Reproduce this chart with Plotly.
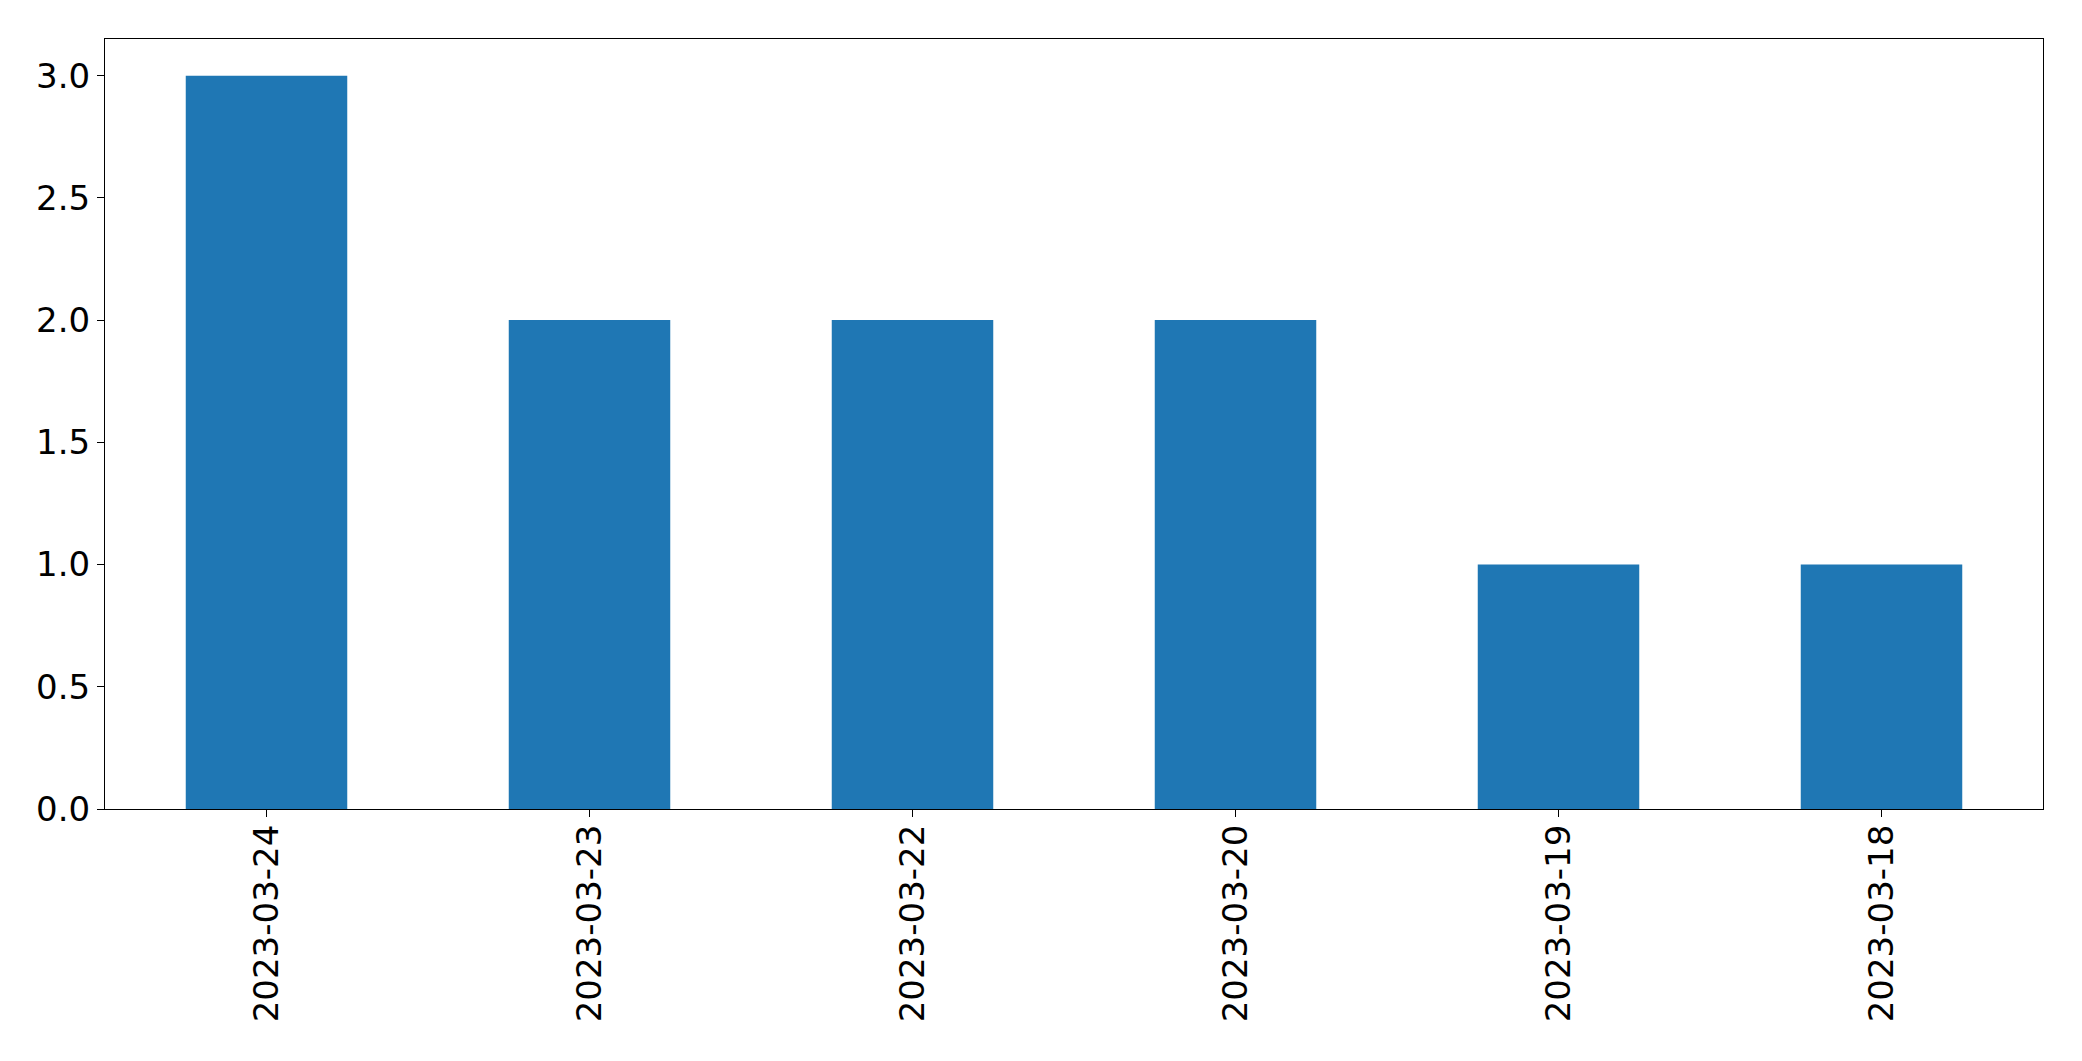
import plotly.graph_objects as go

dates = ["2023-03-24", "2023-03-23", "2023-03-22", "2023-03-20", "2023-03-19", "2023-03-18"]
counts = [3, 2, 2, 2, 1, 1]
y_ticks = [0.0, 0.5, 1.0, 1.5, 2.0, 2.5, 3.0]
y_tick_labels = ["0.0", "0.5", "1.0", "1.5", "2.0", "2.5", "3.0"]

fig = go.Figure(
    go.Bar(x=dates, y=counts, width=0.5, marker=dict(color="#1f77b4", line=dict(width=0)))
)

axis_common = dict(
    showline=True, linecolor="black", linewidth=1.2, mirror=True,
    ticks="outside", ticklen=7, tickwidth=1.2, tickcolor="black",
    showgrid=False, zeroline=False,
    tickfont=dict(family="DejaVu Sans", size=34, color="black"),
)

fig.update_layout(
    width=2074, height=1053,
    margin=dict(l=97, r=39, t=31, b=252, autoexpand=False),
    paper_bgcolor="white", plot_bgcolor="white",
    showlegend=False, bargap=0.5,
    xaxis=dict(type="category", range=[-0.5, 5.5], tickangle=-90,
               ticklabelstandoff=-6, **axis_common),
    yaxis=dict(range=[0, 3.15], tickvals=y_ticks, ticktext=y_tick_labels, **axis_common),
)

fig.write_html("out.html")
